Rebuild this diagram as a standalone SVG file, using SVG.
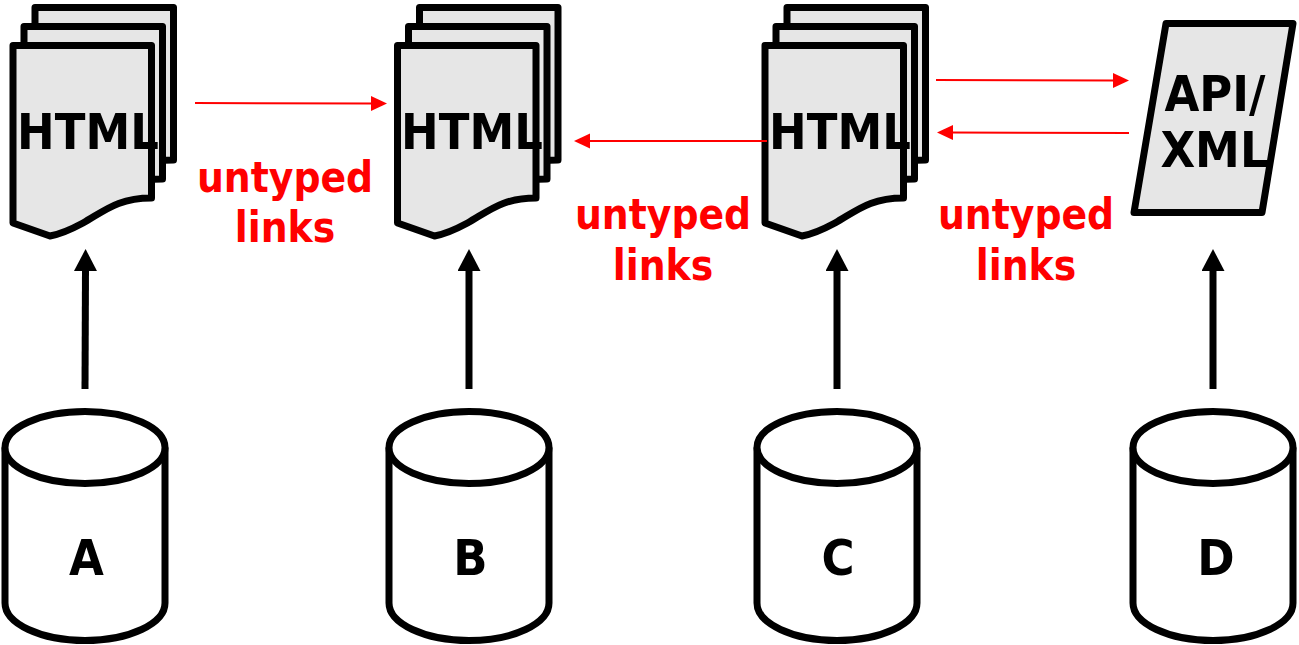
<svg xmlns="http://www.w3.org/2000/svg" width="1299" height="645" viewBox="0 0 1299 645">
<style>
.s{fill:#e6e6e6;stroke:#000;stroke-width:7;stroke-linejoin:round;stroke-linecap:round}
.c{fill:#fff;stroke:#000;stroke-width:7;stroke-linejoin:round}
.t{font-family:"DejaVu Sans Condensed","DejaVu Sans",sans-serif;font-stretch:condensed;font-weight:700;text-anchor:middle}
.b{font-size:50px;fill:#000}
.r{font-size:42px;fill:#f00}
.rl{stroke:#f00;stroke-width:2;fill:none}
.bl{stroke:#000;stroke-width:7;fill:none}
</style>
<defs>
<path id="doc" d="M0 0H138.500V152.500C105 152.500 92 165 70 177.500C58 184 48 188.500 37 190.500L0 177.500Z"/>
<g id="stack">
<use href="#doc" x="22" y="-38" class="s"/>
<use href="#doc" x="11" y="-19" class="s"/>
<use href="#doc" class="s"/>
</g>
<g id="cyl">
<path class="c" d="M0 0V155.500A80 37.500 0 0 0 160 155.500V0"/>
<path class="c" d="M0 0A80 36 0 0 1 160 0A80 36 0 0 1 0 0Z"/>
</g>
<marker id="ra" markerUnits="userSpaceOnUse" markerWidth="16" markerHeight="16" refX="2" refY="8" orient="auto"><path d="M0 0.500L16 8L0 15.500Z" fill="#f00"/></marker>
<marker id="ba" markerUnits="userSpaceOnUse" markerWidth="24" markerHeight="24" refX="2" refY="11.500" orient="auto"><path d="M0 0L22 11.500L0 23Z" fill="#000"/></marker>
</defs>
<g id="page-a"><use href="#stack" x="13" y="45.500"/><text class="t b" x="88" y="149">HTML</text></g>
<g id="page-b"><use href="#stack" x="397.500" y="45.500"/><text class="t b" x="472" y="149">HTML</text></g>
<g id="page-c"><use href="#stack" x="765" y="45.500"/><text class="t b" x="840" y="149">HTML</text></g>
<g id="api"><path class="s" d="M1166 23.500H1293L1262 212.500H1134Z"/><text class="t b" x="1215" y="111">API/</text><text class="t b" x="1214.500" y="167">XML</text></g>
<g id="db-a"><use href="#cyl" x="5" y="447.500"/><text class="t b" x="86.500" y="575">A</text></g>
<g id="db-b"><use href="#cyl" x="389" y="447.500"/><text class="t b" x="470.500" y="575">B</text></g>
<g id="db-c"><use href="#cyl" x="757" y="447.500"/><text class="t b" x="838" y="575">C</text></g>
<g id="db-d"><use href="#cyl" x="1133" y="447.500"/><text class="t b" x="1216" y="575">D</text></g>
<g id="label-1"><text class="t r" x="285" y="192">untyped</text><text class="t r" x="285" y="242">links</text></g>
<g id="label-2"><text class="t r" x="663" y="229">untyped</text><text class="t r" x="663" y="280">links</text></g>
<g id="label-3"><text class="t r" x="1026" y="229">untyped</text><text class="t r" x="1026" y="280">links</text></g>
<g id="connectors">
<path class="rl" marker-end="url(#ra)" d="M195 103L373 103.500"/>
<path class="rl" marker-end="url(#ra)" d="M767 141H588"/>
<path class="rl" marker-end="url(#ra)" d="M936 80L1115 80.500"/>
<path class="rl" marker-end="url(#ra)" d="M1129 133L951 132.500"/>
<path class="bl" marker-end="url(#ba)" d="M85 389L85.500 269"/>
<path class="bl" marker-end="url(#ba)" d="M469 389V269"/>
<path class="bl" marker-end="url(#ba)" d="M837 389V269"/>
<path class="bl" marker-end="url(#ba)" d="M1213 389V269"/>
</g>
</svg>
